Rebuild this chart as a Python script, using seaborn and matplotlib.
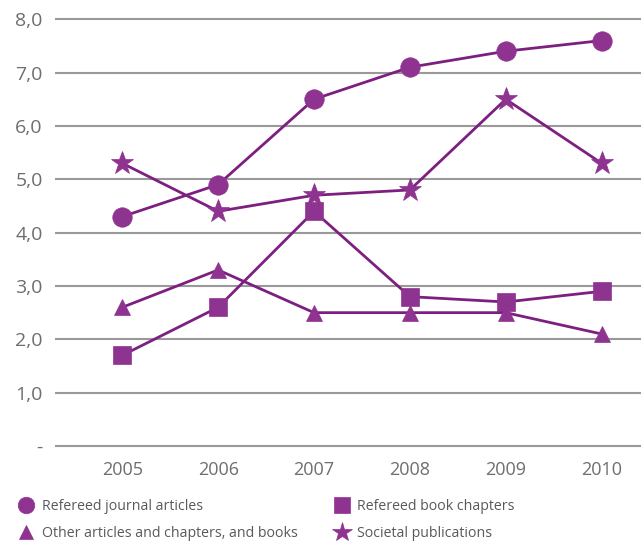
import pandas as pd
import numpy as np
import seaborn as sns
import matplotlib
matplotlib.use("Agg")
import matplotlib.pyplot as plt

###data
years = [2005, 2006, 2007, 2008, 2009, 2010]
journal = [4.3, 4.9, 6.5, 7.1, 7.4, 7.6]
book_chapters = [1.7, 2.6, 4.4, 2.8, 2.7, 2.9]
other = [2.6, 3.3, 2.5, 2.5, 2.5, 2.1]
societal = [5.3, 4.4, 4.7, 4.8, 6.5, 5.3]
series_names = ["Refereed journal articles", "Refereed book chapters",
                "Other articles and chapters, and books", "Societal publications"]
y_ticks = [0, 1, 2, 3, 4, 5, 6, 7, 8]
y_labels = ["-", "1,0", "2,0", "3,0", "4,0", "5,0", "6,0", "7,0", "8,0"]

df = pd.DataFrame({"Year": years * 4,
                   "Value": journal + book_chapters + other + societal,
                   "Type": sum([[n] * len(years) for n in series_names], [])})

sns.set_style("white")
plt.rcParams["font.family"] = ["Open Sans", "DejaVu Sans"]

purple = "#7d1f80"
marker_col = "#8e3490"
grey_txt = "#6d6e71"

fig = plt.figure(figsize=(6.41, 5.41), dpi=100)
ax = fig.add_axes([0.086, 0.1706, 0.914, 0.7998])

markers = {series_names[0]: "o", series_names[1]: "s", series_names[2]: "^", series_names[3]: "*"}
sizes = {series_names[0]: 14, series_names[1]: 13, series_names[2]: 12, series_names[3]: 17}

for name in series_names:
    sub = df[df["Type"] == name]
    sns.lineplot(x="Year", y="Value", data=sub, ax=ax, color=purple, lw=2,
                 marker=markers[name], markersize=sizes[name],
                 markerfacecolor=marker_col, markeredgecolor=marker_col,
                 markeredgewidth=0.5, label=name, legend=False, zorder=3)

ax.set_xlim(2004.30, 2010.41)
ax.set_ylim(-0.05, 8.06)
ax.set_xticks(years)
ax.set_xticklabels([str(y) for y in years], fontsize=13, color=grey_txt)
ax.set_yticks(y_ticks)
ax.set_yticklabels(y_labels, fontsize=14, color=grey_txt)
ax.tick_params(axis="both", length=0)
ax.tick_params(axis="x", pad=9)
ax.tick_params(axis="y", pad=9)
ax.yaxis.grid(True, color="#999999", lw=1.5)
ax.xaxis.grid(False)
for s in ax.spines.values():
    s.set_visible(False)
ax.set_xlabel("")
ax.set_ylabel("")

handles, labels = ax.get_legend_handles_labels()
order = [0, 2, 1, 3]
leg = fig.legend([handles[i] for i in order], [labels[i] for i in order],
                 loc="upper left", bbox_to_anchor=(0.03, 0.078), ncol=2,
                 frameon=False, fontsize=10.2, handlelength=1.0,
                 handletextpad=0.6, columnspacing=2.6, labelspacing=0.85,
                 borderaxespad=0, borderpad=0, markerscale=0.85)
for h in leg.legend_handles:
    h.set_linestyle("none")
for t in leg.get_texts():
    t.set_color("#58595b")

fig.savefig("out.png", dpi=100)
